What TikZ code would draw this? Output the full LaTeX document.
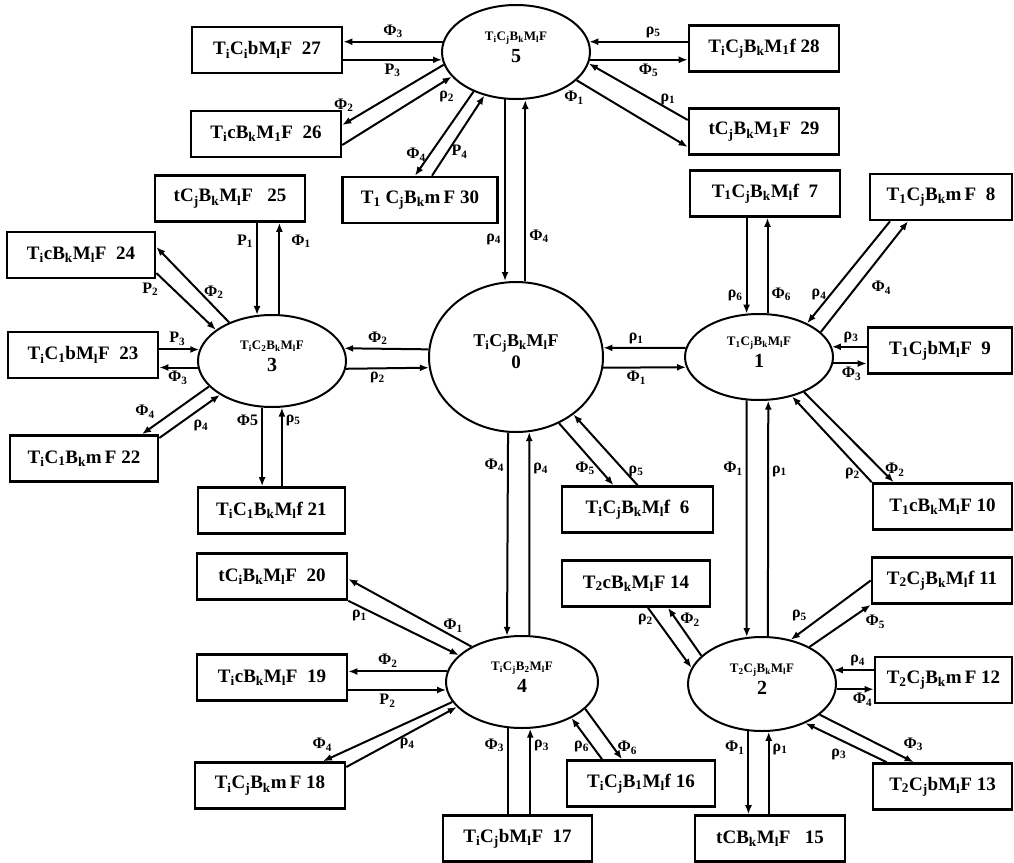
\documentclass[tikz,border=0pt]{standalone}
\usepackage{fontspec}
\setmainfont{Liberation Serif}
\usepackage{tikz}
\usetikzlibrary{arrows.meta,shapes.geometric}

\newcommand{\sx}[1]{\textsubscript{#1}}
\newcommand{\stlabel}[2]{{\fontsize{13}{15}\selectfont #1}\\{\fontsize{20}{17}\selectfont #2}}

\begin{document}
\begin{tikzpicture}[
    x=1pt, y=-1pt, line width=2pt,
    font=\fontsize{19}{22}\selectfont\bfseries,
    box/.style={draw, line width=2.6pt, minimum width=150pt, minimum height=46pt, inner sep=2pt},
    st/.style={draw, ellipse, line width=2pt, minimum width=148pt, minimum height=92pt,
      inner sep=0pt, align=center, text depth=10pt},
    tr/.style={-{Latex[length=9pt,width=7pt]}},
    lb/.style={font=\fontsize{16}{16}\selectfont\bfseries, inner sep=3pt}
  ]
    \useasboundingbox (0,0) rectangle (1014,862);

    % states
    \node[st, minimum width=174pt, minimum height=150pt] (e0) at (516,357)
      {{\fontsize{18}{21}\selectfont T\sx{i}C\sx{j}B\sx{k}M\sx{l}F}\\{\fontsize{19}{19}\selectfont 0}};
    \node[st, minimum height=86pt] (e1) at (759,357) {\stlabel{T\sx{1}C\sx{j}B\sx{k}M\sx{l}F}{1}};
    \node[st, minimum height=94pt] (e2) at (762,684) {\stlabel{T\sx{2}C\sx{j}B\sx{k}M\sx{l}F}{2}};
    \node[st] (e3) at (272,361) {\stlabel{T\sx{i}C\sx{2}B\sx{k}M\sx{l}F}{3}};
    \node[st, minimum width=152pt] (e4) at (522,682) {\stlabel{T\sx{i}C\sx{j}B\sx{2}M\sx{l}F}{4}};
    \node[st, minimum height=94pt] (e5) at (516,52) {\stlabel{T\sx{i}C\sx{j}B\sx{k}M\sx{l}F}{5}};

    % boxes
    \node[box] (b27) at (267,50) {T\sx{i}C\sx{i}bM\sx{l}F\ \ 27};
    \node[box] (b26) at (266,134) {T\sx{i}cB\sx{k}M\sx{1}F\ \ 26};
    \node[box, minimum width=155pt] (b30) at (420,200) {T\sx{1} C\sx{j}B\sx{k}m\,F 30};
    \node[box] (b28) at (764,48.5) {T\sx{i}C\sx{j}B\sx{k}M\sx{1}f 28};
    \node[box] (b29) at (764,131.5) {tC\sx{j}B\sx{k}M\sx{1}F\ \ 29};
    \node[box] (b7) at (765,193.5) {T\sx{1}C\sx{j}B\sx{k}M\sx{l}f\ \ 7};
    \node[box, minimum width=142pt] (b8) at (941,197) {T\sx{1}C\sx{j}B\sx{k}m\,F\ \ 8};
    \node[box, minimum width=144pt] (b9) at (940,350.5) {T\sx{1}C\sx{j}bM\sx{l}F\ \ 9};
    \node[box, minimum width=139pt] (b10) at (942.5,506.5) {T\sx{1}cB\sx{k}M\sx{l}F 10};
    \node[box, minimum width=151pt] (b6) at (637.5,509.5) {T\sx{i}C\sx{j}B\sx{k}M\sx{l}f\ \ 6};
    \node[box] (b25) at (230,198.5) {tC\sx{j}B\sx{k}M\sx{l}F\ \ \ 25};
    \node[box, minimum width=148pt] (b24) at (81,255) {T\sx{i}cB\sx{k}M\sx{l}F\ \ 24};
    \node[box] (b23) at (83,355) {T\sx{i}C\sx{1}bM\sx{l}F\ \ 23};
    \node[box, minimum width=148pt] (b22) at (84,458.5) {T\sx{i}C\sx{1}B\sx{k}m\,F 22};
    \node[box, minimum width=147pt] (b21) at (271.5,510.5) {T\sx{i}C\sx{1}B\sx{k}M\sx{l}f 21};
    \node[box] (b20) at (272,576.5) {tC\sx{i}B\sx{k}M\sx{l}F\ \ 20};
    \node[box] (b19) at (272,677.5) {T\sx{i}cB\sx{k}M\sx{l}F\ \ 19};
    \node[box] (b18) at (270,785.5) {T\sx{i}C\sx{j}B\sx{k}m\,F\ 18};
    \node[box, minimum width=149pt] (b17) at (517.5,838.5) {T\sx{i}C\sx{j}bM\sx{l}F\ \ 17};
    \node[box, minimum width=148pt] (b16) at (641,783.5) {T\sx{i}C\sx{j}B\sx{1}M\sx{l}f 16};
    \node[box] (b15) at (770,838.5) {tCB\sx{k}M\sx{l}F\ \ \ 15};
    \node[box, minimum width=148pt] (b14) at (636,583.5) {T\sx{2}cB\sx{k}M\sx{l}F\ 14};
    \node[box, minimum width=140pt] (b11) at (942,580.5) {T\sx{2}C\sx{j}B\sx{k}M\sx{l}f 11};
    \node[box, minimum width=137pt] (b12) at (943.5,680) {T\sx{2}C\sx{j}B\sx{k}m\,F 12};
    \node[box, minimum width=139pt] (b13) at (942.5,786.5) {T\sx{2}C\sx{j}bM\sx{l}F\ 13};

    % state 5
    \draw[tr] (e5.172) -- (b27.east |- e5.172) node[lb, midway, above] {Φ\sx{3}};
    \draw[tr] (b27.east |- e5.186) -- (e5.186) node[lb, midway, below] {P\sx{3}};
    \draw[tr] (e5.190) -- ([yshift=9pt]b26.east) node[lb, pos=0.85, above left] {Φ\sx{2}};
    \draw[tr] ([yshift=-11pt]b26.east) -- (e5.201) node[lb, pos=0.85, below right] {ρ\sx{2}};
    \draw[tr] (e5.223) -- ([xshift=-5pt]b30.north) node[lb, pos=0.75, left] {Φ\sx{4}};
    \draw[tr] ([xshift=12pt]b30.north) -- (e5.234) node[lb, pos=0.3, right] {P\sx{4}};
    \draw[tr] (e5.257) -- (e5.257 |- e0.north) node[lb, pos=0.77, left] {ρ\sx{4}};
    \draw[tr] (e0.83) -- (e0.83 |- e5.south) node[lb, pos=0.25, right] {Φ\sx{4}};
    \draw[tr] (b28.west |- e5.8) -- (e5.8) node[lb, pos=0.35, above] {ρ\sx{5}};
    \draw[tr] (e5.354) -- (e5.354 -| b28.west) node[lb, pos=0.6, below] {Φ\sx{5}};
    \draw[tr] ([yshift=11.5pt]b29.west) -- (e5.351) node[lb, pos=0.2, above] {ρ\sx{1}};
    \draw[tr] (e5.335) -- ([yshift=-15.5pt]b29.west) node[lb, pos=0.1, below left] {Φ\sx{1}};

    % state 0
    \draw[tr] (e0.175) -- (e3.10) node[lb, pos=0.6, above] {Φ\sx{2}};
    \draw[tr] (e3.354) -- (e0.187) node[lb, pos=0.38, below] {ρ\sx{2}};
    \draw[tr] (e1.173) -- (e0.6) node[lb, pos=0.6, above] {ρ\sx{1}};
    \draw[tr] (e0.353) -- (e1.188) node[lb, pos=0.4, below] {Φ\sx{1}};
    \draw[tr] (e0.264) -- (e4.108) node[lb, pos=0.16, left] {Φ\sx{4}};
    \draw[tr] (e4.81) -- (e0.280) node[lb, pos=0.82, right] {ρ\sx{4}};
    \draw[tr] (e0.303) -- ([xshift=-24pt]b6.north) node[lb, pos=0.73, left] {Φ\sx{5}};
    \draw[tr] (b6.north) -- (e0.315) node[lb, pos=0.2, right] {ρ\sx{5}};

    % state 1
    \draw[tr] (e1.106 |- b7.south) -- (e1.106) node[lb, pos=0.81, left] {ρ\sx{6}};
    \draw[tr] (e1.79) -- (e1.79 |- b7.south) node[lb, pos=0.2, right] {Φ\sx{6}};
    \draw[tr] ([xshift=-51pt]b8.south) -- (e1.35) node[lb, pos=0.72, left] {ρ\sx{4}};
    \draw[tr] (e1.22) -- ([xshift=-33pt]b8.south) node[lb, pos=0.4, right=12pt] {Φ\sx{4}};
    \draw[tr] (b9.west |- e1.8) -- (e1.8) node[lb, pos=0.45, above] {ρ\sx{3}};
    \draw[tr] (e1.355) -- (e1.355 -| b9.west) node[lb, pos=0.55, below] {Φ\sx{3}};
    \draw[tr] (b10.north west) -- (e1.310) node[lb, pos=0.1, left] {ρ\sx{2}};
    \draw[tr] (e1.322) -- ([xshift=22pt]b10.north west) node[lb, pos=0.86, right] {Φ\sx{2}};
    \draw[tr] (e1.254) -- (e2.108) node[lb, pos=0.29, left] {Φ\sx{1}};
    \draw[tr] (e2.83) -- (e1.282) node[lb, pos=0.7, right] {ρ\sx{1}};

    % state 2
    \draw[tr] ([xshift=12pt]b14.south) -- (e2.167) node[lb, pos=0.2, left] {ρ\sx{2}};
    \draw[tr] (e2.155) -- ([xshift=32pt]b14.south) node[lb, pos=0.75, right] {Φ\sx{2}};
    \draw[tr] (b11.west) -- (e2.57) node[lb, pos=0.75, above left] {ρ\sx{5}};
    \draw[tr] (e2.38) -- (b11.south west) node[lb, pos=0.85, below right] {Φ\sx{5}};
    \draw[tr] (b12.west |- e2.11) -- (e2.11) node[lb, pos=0.4, above] {ρ\sx{4}};
    \draw[tr] (e2.356) -- (e2.356 -| b12.west) node[lb, pos=0.7, below] {Φ\sx{4}};
    \draw[tr] ([xshift=15pt]b13.north west) -- (e2.318) node[lb, pos=0.45, below left] {ρ\sx{3}};
    \draw[tr] (e2.332) -- ([xshift=42pt]b13.north west) node[lb, pos=0.85, above right] {Φ\sx{3}};
    \draw[tr] (e2.254) -- (e2.254 |- b15.north) node[lb, pos=0.2, left] {Φ\sx{1}};
    \draw[tr] (e2.278 |- b15.north) -- (e2.278) node[lb, pos=0.79, right] {ρ\sx{1}};

    % state 4
    \draw[tr] (e4.145) -- ([yshift=-2.5pt]b20.east) node[lb, pos=0.15, above] {Φ\sx{1}};
    \draw[tr] (b20.south east) -- (e4.157) node[lb, pos=0.1, below] {ρ\sx{1}};
    \draw[tr] (e4.172) -- (e4.172 -| b19.east) node[lb, pos=0.6, above] {Φ\sx{2}};
    \draw[tr] (b19.east |- e4.186) -- (e4.186) node[lb, pos=0.4, below] {P\sx{2}};
    \draw[tr] (e4.196) -- ([xshift=53pt]b18.north) node[lb, pos=0.9, above left] {Φ\sx{4}};
    \draw[tr] ([yshift=18.5pt]b18.east) -- (e4.201) node[lb, pos=0.55, below] {ρ\sx{4}};
    \draw (e4.253) -- (e4.253 |- b17.north) node[lb, pos=0.2, left] {Φ\sx{3}};
    \draw[tr] (e4.280 |- b17.north) -- (e4.280) node[lb, pos=0.8, right] {ρ\sx{3}};
    \draw[tr] ([xshift=-39pt]b16.north) -- (e4.324) node[lb, pos=0.3, left] {ρ\sx{6}};
    \draw[tr] (e4.337) -- ([xshift=-19pt]b16.north) node[lb, pos=0.77, right] {Φ\sx{6}};

    % state 3
    \draw[tr] (e3.108 |- b25.south) -- (e3.108) node[lb, pos=0.2, left] {P\sx{1}};
    \draw[tr] (e3.81) -- (e3.81 |- b25.south) node[lb, pos=0.8, right=8pt] {Φ\sx{1}};
    \draw[tr] (e3.138) -- ([yshift=8pt]b24.east) node[lb, pos=0.4, right] {Φ\sx{2}};
    \draw[tr] ([yshift=-18pt]b24.east) -- (e3.151) node[lb, pos=0.1, below left] {P\sx{2}};
    \draw[tr] (b23.east |- e3.171) -- (e3.171) node[lb, pos=0.45, above] {P\sx{3}};
    \draw[tr] (e3.185) -- (e3.185 -| b23.east) node[lb, pos=0.52, below] {Φ\sx{3}};
    \draw[tr] (e3.202) -- ([xshift=58pt]b22.north) node[lb, pos=0.75, above left] {Φ\sx{4}};
    \draw[tr] ([yshift=20.5pt]b22.east) -- (e3.213) node[lb, pos=0.5, below right] {ρ\sx{4}};
    \draw[tr] (e3.258) -- (e3.258 |- b21.north) node[lb, pos=0.16, left] {Φ5};
    \draw[tr] (e3.282 |- b21.north) -- (e3.282) node[lb, pos=0.84, right] {ρ\sx{5}};
\end{tikzpicture}
\end{document}
